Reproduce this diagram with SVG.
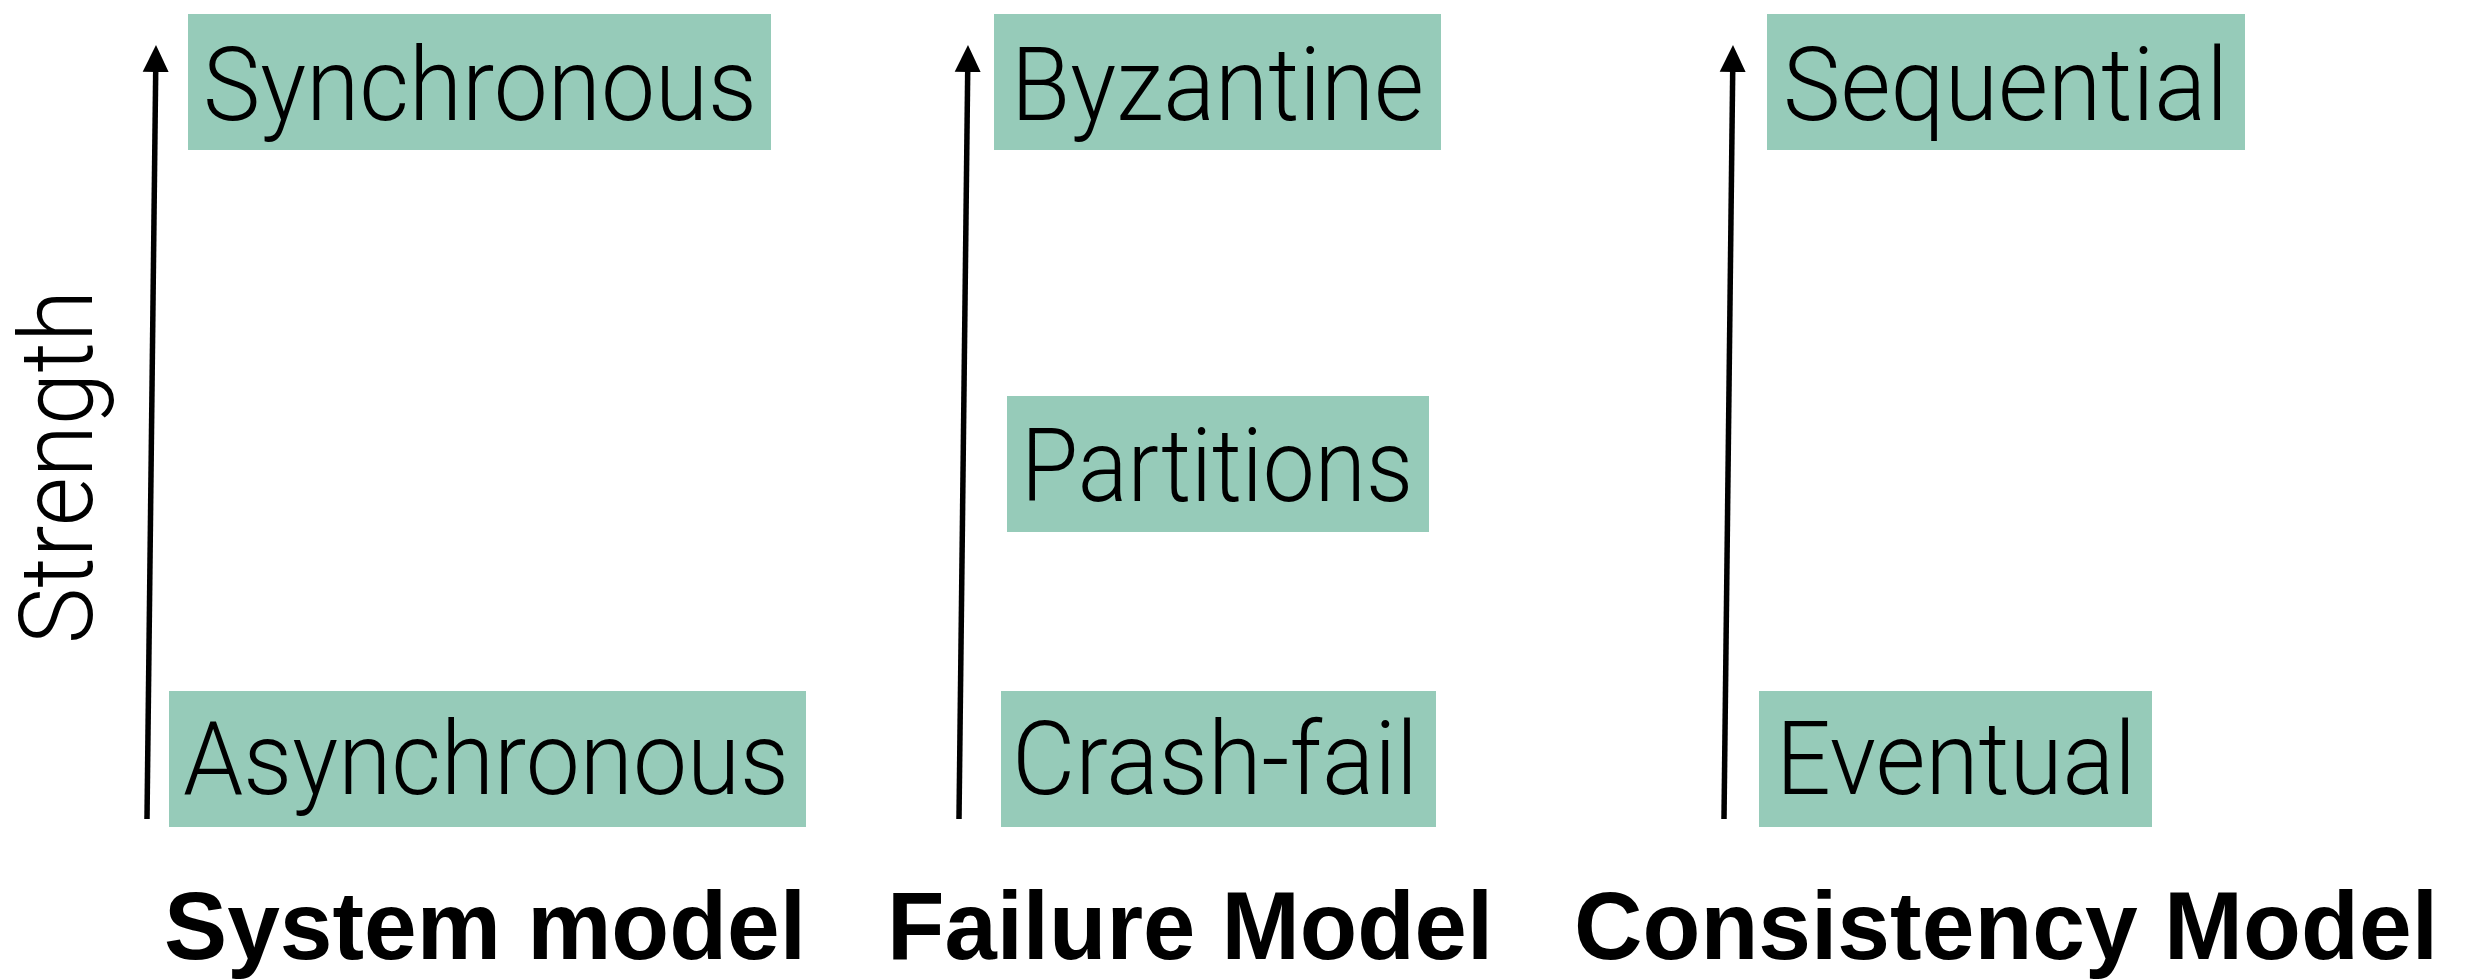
<svg xmlns="http://www.w3.org/2000/svg" width="2473" height="980" viewBox="0 0 2473 980">
  <style>
    .box { fill: #96cbb9; }
    .lbl { font-family: Roboto, "Liberation Sans", Arial, sans-serif; font-weight: 300; font-size: 102px; fill: #000; }
    .ttl { font-family: "Liberation Sans", Arial, Helvetica, sans-serif; font-weight: bold; font-size: 96px; fill: #000; }
    .axis { stroke: #000; stroke-width: 5.5; fill: none; }
  </style>
  <defs>
    <marker id="head" viewBox="0 -14 28 28" markerUnits="userSpaceOnUse" markerWidth="28" markerHeight="28" refX="1" refY="0" orient="auto">
      <path d="M0,-13 L27,0 L0,13 Z" fill="#000"/>
    </marker>
  </defs>

  <!-- axis arrows -->
  <g id="connectors">
    <line class="axis" x1="147" y1="819" x2="155.7" y2="71" marker-end="url(#head)"/>
    <line class="axis" x1="959" y1="819" x2="967.7" y2="71" marker-end="url(#head)"/>
    <line class="axis" x1="1724" y1="819" x2="1732.7" y2="71" marker-end="url(#head)"/>
  </g>

  <!-- vertical axis label -->
  <g id="strength">
    <text class="lbl" transform="translate(92,644) rotate(-90)" x="0" y="0" textLength="354" lengthAdjust="spacingAndGlyphs">Strength</text>
  </g>

  <!-- System model column -->
  <g id="synchronous">
    <rect class="box" x="188" y="14" width="583" height="136"/>
    <text class="lbl" x="203" y="120" textLength="554" lengthAdjust="spacingAndGlyphs">Synchronous</text>
  </g>
  <g id="asynchronous">
    <rect class="box" x="169" y="691" width="637" height="136"/>
    <text class="lbl" x="183" y="794" textLength="606" lengthAdjust="spacingAndGlyphs">Asynchronous</text>
  </g>

  <!-- Failure model column -->
  <g id="byzantine">
    <rect class="box" x="994" y="14" width="447" height="136"/>
    <text class="lbl" x="1011" y="120" textLength="413" lengthAdjust="spacingAndGlyphs">Byzantine</text>
  </g>
  <g id="partitions">
    <rect class="box" x="1007" y="396" width="422" height="136"/>
    <text class="lbl" x="1021" y="501" textLength="392" lengthAdjust="spacingAndGlyphs">Partitions</text>
  </g>
  <g id="crash-fail">
    <rect class="box" x="1001" y="691" width="435" height="136"/>
    <text class="lbl" x="1012" y="794" textLength="406" lengthAdjust="spacingAndGlyphs">Crash-fail</text>
  </g>

  <!-- Consistency model column -->
  <g id="sequential">
    <rect class="box" x="1767" y="14" width="478" height="136"/>
    <text class="lbl" x="1783" y="120" textLength="445" lengthAdjust="spacingAndGlyphs">Sequential</text>
  </g>
  <g id="eventual">
    <rect class="box" x="1759" y="691" width="393" height="136"/>
    <text class="lbl" x="1776" y="794" textLength="360" lengthAdjust="spacingAndGlyphs">Eventual</text>
  </g>

  <!-- column titles -->
  <g id="titles">
    <text class="ttl" x="164" y="959" textLength="642" lengthAdjust="spacingAndGlyphs">System model</text>
    <text class="ttl" x="887" y="959" textLength="606" lengthAdjust="spacingAndGlyphs">Failure Model</text>
    <text class="ttl" x="1574" y="959" textLength="864" lengthAdjust="spacingAndGlyphs">Consistency Model</text>
  </g>
</svg>
